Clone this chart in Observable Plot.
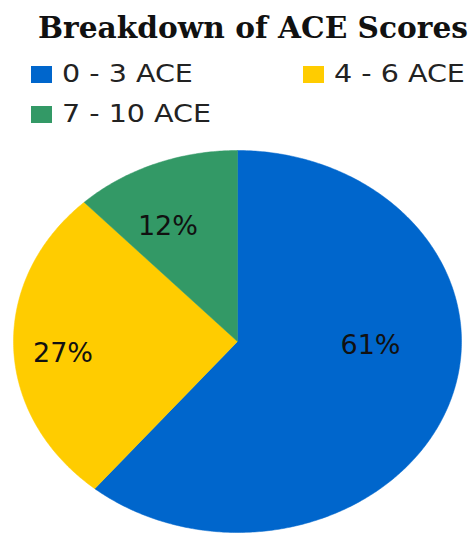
<!DOCTYPE html>
<html>
<head>
<meta charset="utf-8">
<script src="https://cdn.jsdelivr.net/npm/d3@7"></script>
<script src="https://cdn.jsdelivr.net/npm/@observablehq/plot@0.6"></script>
<style>
  html, body { margin: 0; padding: 0; background: #fff; }
  #wrap { position: relative; width: 474px; height: 533px; overflow: hidden; }
  #head { position: relative; width: 474px; height: 140px; }
  #title { position: absolute; left: 38px; top: 10px; line-height: normal; transform-origin: left top;
    font-family: "DejaVu Serif", serif; font-weight: bold; font-size: 29.5px; color: #111; white-space: nowrap; }
  .item { position: absolute; display: flex; align-items: center; line-height: normal; font-family: "DejaVu Sans", sans-serif; font-size: 24px; color: #222; white-space: nowrap; }
  .sw { width: 21px; height: 17px; margin-right: 10px; }
  .lab { display: inline-block; transform: scaleX(1.19); transform-origin: left center; }
</style>
</head>
<body>
<div id="wrap">
  <div id="head">
    <div id="title"></div>
  </div>
  <div id="chart"></div>
</div>
<script>
const title = "Breakdown of ACE Scores";
const categories = ["0 - 3 ACE", "4 - 6 ACE", "7 - 10 ACE"];
const values = [61, 27, 12];
const labels = ["61%", "27%", "12%"];
const colors = ["#0066CC", "#FFCC00", "#339966"];

const titleEl = document.getElementById("title");
titleEl.textContent = title;
const tw = titleEl.getBoundingClientRect().width;
titleEl.style.transform = `scaleX(${430 / tw})`;

// legend
const head = document.getElementById("head");
const legendPos = [[31, 60], [303, 60], [31, 100]];
categories.forEach((c, i) => {
  const d = document.createElement("div");
  d.className = "item";
  d.style.left = legendPos[i][0] + "px";
  d.style.top = legendPos[i][1] + "px";
  d.innerHTML = `<span class="sw" style="background:${colors[i]}"></span><span class="lab">${c}</span>`;
  head.appendChild(d);
});

// pie geometry from data
const arcs = d3.pie().sort(null).value(d => d)(values);
const pts = [];
arcs.forEach((a, i) => {
  const key = categories[i];
  pts.push({key, x: 0, y: 0});
  const n = Math.max(2, Math.ceil((a.endAngle - a.startAngle) / 0.01));
  for (let k = 0; k <= n; k++) {
    const t = a.startAngle + (a.endAngle - a.startAngle) * k / n;
    pts.push({key, x: Math.sin(t), y: Math.cos(t)});
  }
  pts.push({key, x: 0, y: 0});
});

const nudges = [[-4, -38], [-29, 8], [-16, 0]];
const labelData = arcs.map((a, i) => {
  const m = (a.startAngle + a.endAngle) / 2;
  return {label: labels[i], x: 0.65 * Math.sin(m), y: 0.65 * Math.cos(m), dx: nudges[i][0], dy: nudges[i][1]};
});

const plot = Plot.plot({
  width: 474,
  height: 393,
  marginLeft: 13,
  marginRight: 13,
  marginTop: 10,
  marginBottom: 1,
  x: {domain: [-1, 1], axis: null},
  y: {domain: [-1, 1], axis: null},
  color: {domain: categories, range: colors},
  marks: [
    Plot.line(pts, {x: "x", y: "y", z: "key", fill: "key", stroke: "key", strokeWidth: 0.5, curve: "linear"}),
    ...labelData.map(d => Plot.text([d], {x: "x", y: "y", text: "label", dx: d.dx, dy: d.dy,
      fontSize: 27, fill: "#111", fontFamily: "DejaVu Sans, sans-serif"}))
  ]
});
document.getElementById("chart").appendChild(plot);
</script>
</body>
</html>
